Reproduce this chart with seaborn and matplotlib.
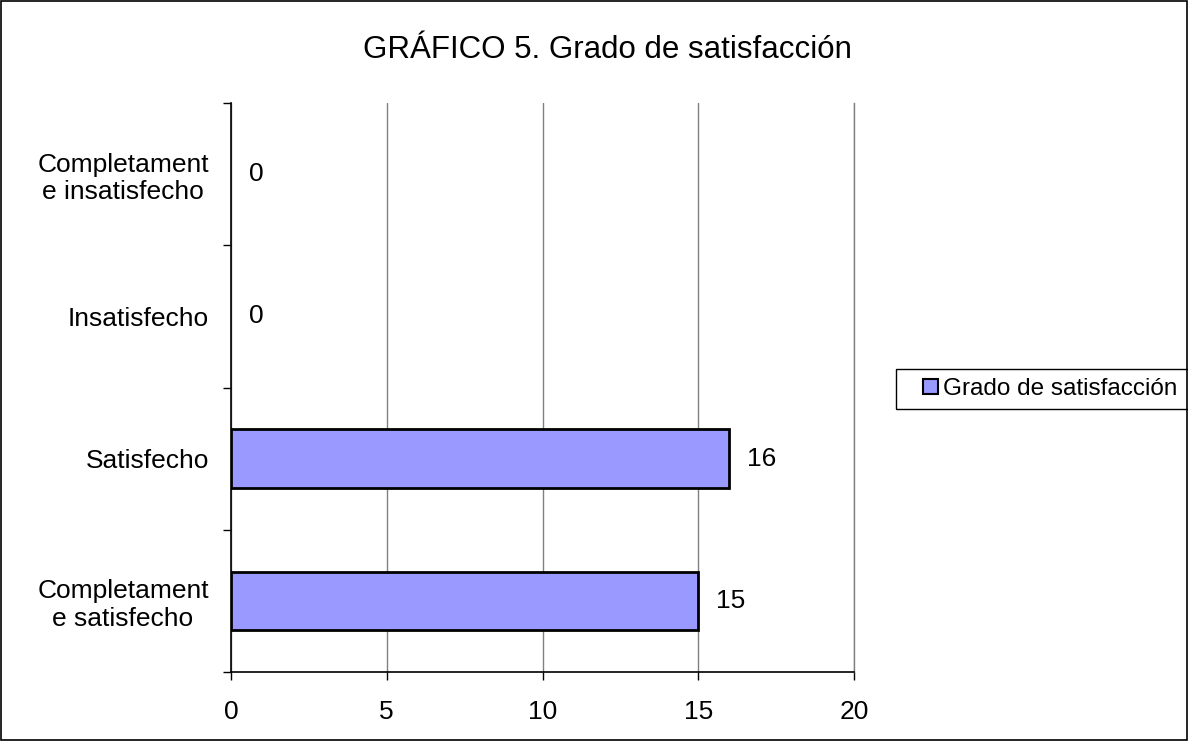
import matplotlib
matplotlib.use('Agg')
import matplotlib.pyplot as plt
from matplotlib.patches import Patch, Rectangle
import seaborn as sns
import pandas as pd

categories = ['Completament\ne insatisfecho', 'Insatisfecho', 'Satisfecho',
              'Completament\ne satisfecho']
values = [0, 0, 16, 15]
series_name = 'Grado de satisfacción'
title = 'GRÁFICO 5. Grado de satisfacción'

sns.set_style('white', {'xtick.bottom': True, 'ytick.left': True,
                        'text.color': 'black', 'xtick.color': 'black',
                        'ytick.color': 'black'})
plt.rcParams['font.family'] = ['Liberation Sans', 'DejaVu Sans']

df = pd.DataFrame({'cat': categories, 'val': values})

fig = plt.figure(figsize=(11.88, 7.41), dpi=100)
ax = fig.add_axes([231 / 1188, 1 - 672 / 741, 623 / 1188, 569 / 741])

sns.barplot(data=df, y='cat', x='val', order=categories, color='#9999FF',
            saturation=1, width=0.41, edgecolor='black', linewidth=2, ax=ax)
for p in ax.patches:
    if p.get_width() == 0:
        p.set_linewidth(0)

ax.set_xlim(0, 20)
ax.set_ylim(3.5, -0.5)
ax.set_xticks([0, 5, 10, 15, 20])
ax.set_xticklabels(['0', '5', '10', '15', '20'], fontsize=19)
ax.tick_params(axis='x', length=6, width=1, color='black', pad=14, direction='out')
ax.grid(axis='x', color='#808080', linewidth=1)
ax.set_axisbelow(True)

ax.set_yticks([-0.5, 0.5, 1.5, 2.5, 3.5])
ax.set_yticklabels([])
ax.set_yticks(range(len(categories)), minor=True)
ax.set_yticklabels(categories, minor=True, fontsize=19, ha='right', multialignment='center')
ax.tick_params(axis='y', which='major', length=6, width=1, color='black', direction='out')
ax.tick_params(axis='y', which='minor', length=0, pad=16)

ax.set_xlabel('')
ax.set_ylabel('')
ax.spines['top'].set_visible(False)
ax.spines['right'].set_color('#808080')
ax.spines['right'].set_linewidth(1)
for side in ['left', 'bottom']:
    ax.spines[side].set_color('black')
    ax.spines[side].set_linewidth(1.2)

for c in ax.containers:
    ax.bar_label(c, labels=[str(v) for v in values], padding=13, fontsize=19)

fig.text(607 / 1188, 1 - 50 / 741, title, ha='center', va='center', fontsize=22.5)

# legend entry, with its box drawn separately (runs off the right edge)
handle = Patch(facecolor='#9999FF', edgecolor='black', linewidth=1.5)
fig.legend([handle], [series_name], loc='center left',
           bbox_to_anchor=(916 / 1188, 1 - 389 / 741), fontsize=17.5,
           frameon=False, handlelength=0.6, handleheight=0.6,
           handletextpad=0.2, borderpad=0.3, borderaxespad=0)
fig.patches.append(Rectangle((896 / 1188, 1 - 409 / 741), 300 / 1188, 40 / 741,
                             transform=fig.transFigure, fill=False,
                             edgecolor='black', linewidth=1))

fig.patches.append(Rectangle((0.0005, 0.0007), 0.999, 0.9986, transform=fig.transFigure,
                             fill=False, edgecolor='black', linewidth=1.2))

fig.savefig('out.png', dpi=100)
